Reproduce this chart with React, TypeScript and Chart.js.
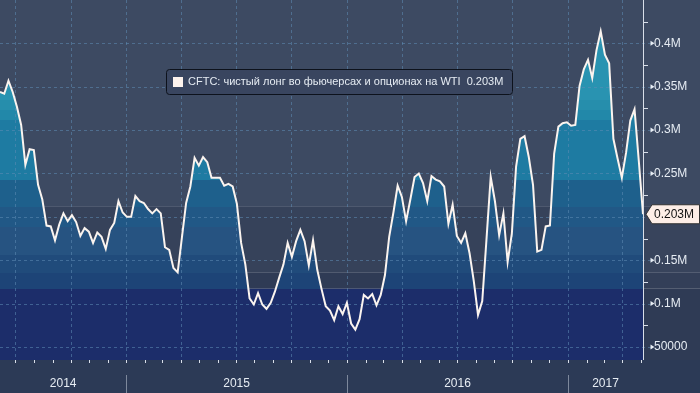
import React, { useEffect, useRef } from "react";
import { Chart, registerables } from "chart.js";

Chart.register(...registerables);

// ---------- DATA ----------
// Weekly CFTC report dates start Friday 6 June 2014 (one value per week)
const START_DATE = [2014, 5, 6]; // year, monthIndex, day
// Net long in futures & options on WTI, thousands of contracts
const NET_LONG_K = [
  344, 342, 357, 344, 327, 306, 260, 278, 277, 237,
  220, 190, 189, 173, 191, 204, 195, 202, 194, 178,
  187, 183, 170, 182, 177, 163, 185, 193, 218, 205,
  200, 200, 224, 218, 216, 209, 204, 209, 204, 165,
  162, 141, 136, 176, 216, 235, 268, 259, 269, 263,
  245, 245, 245, 236, 238, 235, 215, 170, 145, 106,
  99, 112, 99, 94, 101, 114, 130, 145, 170, 154,
  172, 185, 172, 144, 173, 139, 117, 97, 92, 81,
  97, 88, 101, 77, 70, 82, 110, 106, 111, 98,
  110, 133, 177, 205, 236, 223, 195, 220, 246, 250,
  239, 218, 247, 243, 241, 235, 192, 214, 178, 170,
  181, 158, 126, 87, 103, 174, 246, 218, 179, 204,
  148, 181, 258, 290, 293, 269, 237, 160, 162, 189,
  190, 273, 304, 308, 309, 305, 306, 351, 370, 381,
  360, 392, 414, 387, 377, 290, 267, 245, 274, 311,
  324, 265, 203,
];
const Y_TICKS = [50, 100, 150, 200, 250, 300, 350, 400];
const YEARS = [2014, 2015, 2016, 2017];
const SERIES_NAME = "CFTC: чистый лонг во фьючерсах и опционах на WTI";

// ---------- derived ----------
const DAY_MS = 86400000;
const startMs = Date.UTC(START_DATE[0], START_DATE[1], START_DATE[2]);
const dayOf = (y: number, m: number, d = 1) => (Date.UTC(y, m, d) - startMs) / DAY_MS;
const weekDays = NET_LONG_K.map((_, i) => i * 7);
const lastDay = weekDays[weekDays.length - 1];
const points = NET_LONG_K.map((v, i) => ({ x: weekDays[i], y: v }));
const lastValue = NET_LONG_K[NET_LONG_K.length - 1];
const fmtM = (v: number) => (v >= 100 ? `${v / 1000}M` : `${v * 1000}`);
const lastLabel = `${(lastValue / 1000).toFixed(3)}M`;

const monthStarts: number[] = [];
const quarterStarts: number[] = [];
for (let y = YEARS[0]; y <= YEARS[YEARS.length - 1]; y++) {
  for (let m = 0; m < 12; m++) {
    const d = dayOf(y, m);
    if (d > 0 && d < lastDay) {
      monthStarts.push(d);
      if (m % 3 === 0) quarterStarts.push(d);
    }
  }
}

// ---------- STYLE ----------
const FONT = '"Liberation Sans", Arial, sans-serif';
const TEXT = "#e6ecf3";
const GRID = "rgba(95,140,180,0.55)";
const AXIS_BG = "#2c3a56";
const BG_BANDS = [
  { lo: 211.5, plot: "#3d4a62", side: "#3d4a62" },
  { lo: 135.5, plot: "#36425a", side: "#38445c" },
  { lo: 117.1, plot: "#2f3b55", side: "#333f58" },
  { lo: -Infinity, plot: "#1c2d6a", side: "#2f3b55" },
];
const FILL_BANDS = [
  { lo: 334.7, color: "#2993b1" },
  { lo: 323.2, color: "#268eac" },
  { lo: 311.7, color: "#2288a9" },
  { lo: 242.6, color: "#1e7ba2" },
  { lo: 211.5, color: "#1e608c" },
  { lo: 188.5, color: "#215886" },
  { lo: 156.3, color: "#265381" },
  { lo: 135.5, color: "#204b7b" },
  { lo: 117.1, color: "#1d4477" },
  { lo: -Infinity, color: "#1c2d6a" },
];

function bandGradient(chart: any) {
  const a = chart.chartArea;
  const y = chart.scales && chart.scales.y;
  if (!a || !y) return FILL_BANDS[3].color;
  const g = chart.ctx.createLinearGradient(0, a.top, 0, a.bottom);
  const f = (v: number) => {
    if (v === -Infinity) return 1;
    return Math.min(1, Math.max(0, (y.getPixelForValue(v) - a.top) / (a.bottom - a.top)));
  };
  FILL_BANDS.forEach((b, i) => {
    const t = i === 0 ? 0 : f(FILL_BANDS[i - 1].lo);
    const bt = f(b.lo);
    g.addColorStop(t, b.color);
    g.addColorStop(bt, b.color);
  });
  return g;
}

const backgroundPlugin = {
  id: "bgBands",
  beforeDraw(chart: any) {
    const { ctx, chartArea: a, width, height } = chart;
    const y = chart.scales.y;
    ctx.save();
    const clampY = (p: number) => Math.min(a.bottom, Math.max(0, p));
    BG_BANDS.forEach((b, i) => {
      const top = i === 0 ? 0 : clampY(y.getPixelForValue(BG_BANDS[i - 1].lo));
      const bot = b.lo === -Infinity ? a.bottom : clampY(y.getPixelForValue(b.lo));
      ctx.fillStyle = b.plot;
      ctx.fillRect(a.left, top, a.right - a.left, bot - top);
      ctx.fillStyle = b.side;
      ctx.fillRect(a.right, top, width - a.right, bot - top);
    });
    ctx.fillStyle = AXIS_BG;
    ctx.fillRect(0, a.bottom, width, height - a.bottom);
    ctx.restore();
  },
  afterDatasetDraw(chart: any, args: any) {
    if (args.index !== 0) return;
    const { ctx, chartArea: a } = chart;
    const { x, y } = chart.scales;
    ctx.save();
    ctx.lineWidth = 1;
    ctx.strokeStyle = GRID;
    ctx.setLineDash([3, 3]);
    Y_TICKS.forEach((v) => {
      const py = Math.round(y.getPixelForValue(v)) + 0.5;
      ctx.beginPath();
      ctx.moveTo(a.left, py);
      ctx.lineTo(a.right + 8, py);
      ctx.stroke();
    });
    quarterStarts.forEach((d) => {
      const px = Math.round(x.getPixelForValue(d)) + 0.5;
      ctx.beginPath();
      ctx.moveTo(px, a.top);
      ctx.lineTo(px, a.bottom);
      ctx.stroke();
    });
    ctx.restore();
  },
  afterDraw(chart: any) {
    const { ctx, chartArea: a, width, height } = chart;
    const { x, y } = chart.scales;
    ctx.save();
    // right axis line
    ctx.strokeStyle = "#d8dee8";
    ctx.lineWidth = 1;
    ctx.beginPath();
    ctx.moveTo(a.right + 0.5, 0);
    ctx.lineTo(a.right + 0.5, a.bottom);
    ctx.stroke();
    // minor ticks
    for (let i = 0; i < Y_TICKS.length; i++) {
      const v = Y_TICKS[i] + 25;
      const py = Math.round(y.getPixelForValue(v)) + 0.5;
      ctx.beginPath();
      ctx.moveTo(a.right, py);
      ctx.lineTo(a.right + 5, py);
      ctx.stroke();
    }
    // major tick arrows
    ctx.fillStyle = "#e8eef5";
    Y_TICKS.forEach((v) => {
      const py = y.getPixelForValue(v);
      ctx.beginPath();
      ctx.moveTo(a.right + 7.5, py - 2.5);
      ctx.lineTo(a.right + 11.5, py);
      ctx.lineTo(a.right + 7.5, py + 2.5);
      ctx.closePath();
      ctx.fill();
    });
    // x axis monthly ticks
    ctx.strokeStyle = "#d8dee8";
    monthStarts.forEach((d) => {
      const px = Math.round(x.getPixelForValue(d)) + 0.5;
      ctx.beginPath();
      ctx.moveTo(px, a.bottom);
      ctx.lineTo(px, a.bottom + 3);
      ctx.stroke();
    });
    // year dividers and labels
    const yearEdges = [0, ...YEARS.slice(1).map((yr) => x.getPixelForValue(dayOf(yr, 0))), a.right];
    ctx.strokeStyle = "#7d889c";
    for (let i = 1; i < yearEdges.length - 1; i++) {
      const px = Math.round(yearEdges[i]) + 0.5;
      ctx.beginPath();
      ctx.moveTo(px, a.bottom + 15);
      ctx.lineTo(px, height);
      ctx.stroke();
    }
    ctx.fillStyle = TEXT;
    ctx.font = `12px ${FONT}`;
    ctx.textAlign = "center";
    ctx.textBaseline = "middle";
    YEARS.forEach((yr, i) => {
      ctx.fillText(String(yr), (yearEdges[i] + yearEdges[i + 1]) / 2, a.bottom + 24);
    });
    // last value tag
    const ty = y.getPixelForValue(lastValue);
    ctx.beginPath();
    ctx.moveTo(a.right + 3, ty);
    ctx.lineTo(a.right + 9, ty - 9.5);
    ctx.lineTo(width - 0.5, ty - 9.5);
    ctx.lineTo(width - 0.5, ty + 9.5);
    ctx.lineTo(a.right + 9, ty + 9.5);
    ctx.closePath();
    ctx.fillStyle = "#fdeee7";
    ctx.fill();
    ctx.strokeStyle = "#333";
    ctx.stroke();
    ctx.fillStyle = "#111";
    ctx.textAlign = "left";
    ctx.fillText(lastLabel, a.right + 11, ty + 0.5);
    // legend box
    const lx = 166.5, ly = 69.5, lw = 346, lh = 25, r = 3;
    ctx.beginPath();
    ctx.moveTo(lx + r, ly);
    ctx.lineTo(lx + lw - r, ly);
    ctx.quadraticCurveTo(lx + lw, ly, lx + lw, ly + r);
    ctx.lineTo(lx + lw, ly + lh - r);
    ctx.quadraticCurveTo(lx + lw, ly + lh, lx + lw - r, ly + lh);
    ctx.lineTo(lx + r, ly + lh);
    ctx.quadraticCurveTo(lx, ly + lh, lx, ly + lh - r);
    ctx.lineTo(lx, ly + r);
    ctx.quadraticCurveTo(lx, ly, lx + r, ly);
    ctx.closePath();
    ctx.fillStyle = "#39455f";
    ctx.fill();
    ctx.strokeStyle = "#0d121c";
    ctx.stroke();
    ctx.fillStyle = "#fdf2ec";
    ctx.fillRect(173, 77, 10, 10);
    ctx.fillStyle = TEXT;
    ctx.font = `11px ${FONT}`;
    ctx.fillText(`${SERIES_NAME}  ${lastLabel}`, 188, 82);
    ctx.restore();
  },
};

export default function App() {
  const ref = useRef<HTMLCanvasElement | null>(null);
  useEffect(() => {
    document.body.style.margin = "0";
    const canvas = ref.current;
    if (!canvas) return;
    const chart = new Chart(canvas, {
      type: "line",
      data: {
        datasets: [
          {
            data: points,
            borderWidth: 0,
            borderColor: "rgba(0,0,0,0)",
            pointRadius: 0,
            fill: "start",
            backgroundColor: (c: any) => bandGradient(c.chart),
            order: 2,
            tension: 0,
          },
          {
            data: points,
            borderColor: "#fbf4ef",
            borderWidth: 2,
            pointRadius: 0,
            fill: false,
            order: 1,
            tension: 0,
          },
        ],
      },
      options: {
        responsive: false,
        animation: false,
        devicePixelRatio: 1,
        layout: { padding: { left: 0, right: 0, top: 0, bottom: 33 } },
        plugins: { legend: { display: false }, tooltip: { enabled: false } },
        scales: {
          x: { type: "linear", display: false, min: 0, max: lastDay },
          y: {
            position: "right",
            min: 35,
            max: 450,
            grid: { display: false, drawTicks: false },
            border: { display: false },
            afterBuildTicks: (s: any) => {
              s.ticks = Y_TICKS.map((v) => ({ value: v }));
            },
            afterFit: (s: any) => {
              s.width = 57;
              s.paddingTop = 0;
              s.paddingBottom = 0;
            },
            ticks: {
              padding: 11,
              color: TEXT,
              font: { size: 12, family: FONT },
              callback: (v: any) => fmtM(Number(v)),
            },
          },
        },
      },
      plugins: [backgroundPlugin],
    } as any);
    return () => chart.destroy();
  }, []);
  return (
    <div style={{ width: 700, height: 393 }}>
      <canvas ref={ref} width={700} height={393} style={{ display: "block", width: 700, height: 393 }} />
    </div>
  );
}
